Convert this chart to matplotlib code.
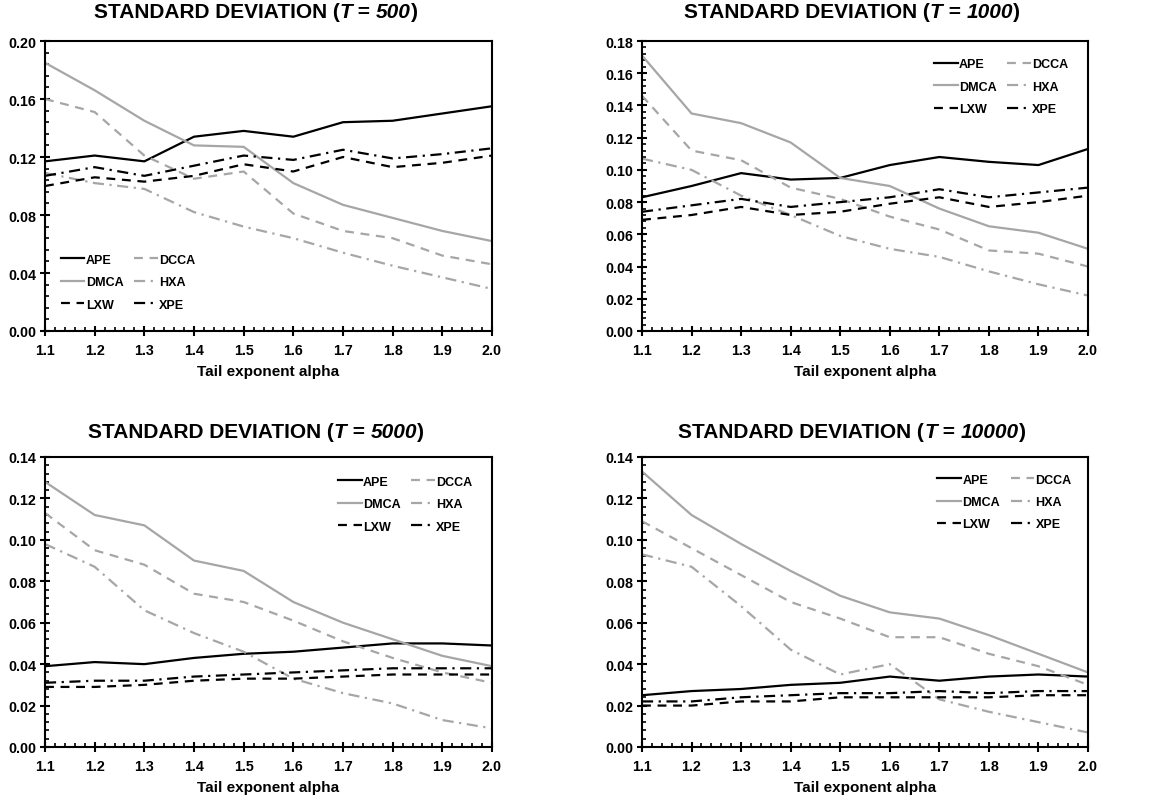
import matplotlib
matplotlib.use("Agg")
import matplotlib.pyplot as plt
from matplotlib.ticker import MultipleLocator, FormatStrFormatter

plt.rcParams['font.family'] = ['Liberation Sans', 'DejaVu Sans']
plt.rcParams['font.weight'] = 'bold'

alpha = [1.1, 1.2, 1.3, 1.4, 1.5, 1.6, 1.7, 1.8, 1.9, 2.0]
sizes = ["500", "1000", "5000", "10000"]

# T = 500
ape_500 = [0.117, 0.121, 0.117, 0.134, 0.138, 0.134, 0.144, 0.145, 0.150, 0.155]
dmca_500 = [0.185, 0.166, 0.145, 0.128, 0.127, 0.102, 0.087, 0.078, 0.069, 0.062]
dcca_500 = [0.160, 0.151, 0.121, 0.105, 0.110, 0.081, 0.069, 0.064, 0.052, 0.046]
hxa_500 = [0.109, 0.102, 0.098, 0.082, 0.072, 0.064, 0.054, 0.045, 0.037, 0.029]
lxw_500 = [0.100, 0.106, 0.103, 0.107, 0.115, 0.110, 0.120, 0.113, 0.116, 0.121]
xpe_500 = [0.107, 0.113, 0.107, 0.114, 0.121, 0.118, 0.125, 0.119, 0.122, 0.126]

# T = 1000
ape_1000 = [0.083, 0.090, 0.098, 0.094, 0.095, 0.103, 0.108, 0.105, 0.103, 0.113]
dmca_1000 = [0.171, 0.135, 0.129, 0.117, 0.095, 0.090, 0.076, 0.065, 0.061, 0.051]
dcca_1000 = [0.146, 0.112, 0.106, 0.089, 0.082, 0.071, 0.063, 0.050, 0.048, 0.040]
hxa_1000 = [0.107, 0.100, 0.084, 0.072, 0.059, 0.051, 0.046, 0.037, 0.029, 0.022]
lxw_1000 = [0.069, 0.072, 0.077, 0.072, 0.074, 0.079, 0.083, 0.077, 0.080, 0.084]
xpe_1000 = [0.074, 0.078, 0.082, 0.077, 0.080, 0.083, 0.088, 0.083, 0.086, 0.089]

# T = 5000
ape_5000 = [0.039, 0.041, 0.040, 0.043, 0.045, 0.046, 0.048, 0.050, 0.050, 0.049]
dmca_5000 = [0.128, 0.112, 0.107, 0.090, 0.085, 0.070, 0.060, 0.052, 0.044, 0.039]
dcca_5000 = [0.113, 0.095, 0.088, 0.074, 0.070, 0.061, 0.051, 0.043, 0.036, 0.031]
hxa_5000 = [0.098, 0.087, 0.066, 0.055, 0.046, 0.033, 0.026, 0.021, 0.013, 0.009]
lxw_5000 = [0.029, 0.029, 0.030, 0.032, 0.033, 0.033, 0.034, 0.035, 0.035, 0.035]
xpe_5000 = [0.031, 0.032, 0.032, 0.034, 0.035, 0.036, 0.037, 0.038, 0.038, 0.038]

# T = 10000
ape_10000 = [0.025, 0.027, 0.028, 0.030, 0.031, 0.034, 0.032, 0.034, 0.035, 0.034]
dmca_10000 = [0.133, 0.112, 0.098, 0.085, 0.073, 0.065, 0.062, 0.054, 0.045, 0.036]
dcca_10000 = [0.109, 0.096, 0.083, 0.070, 0.062, 0.053, 0.053, 0.045, 0.039, 0.030]
hxa_10000 = [0.093, 0.087, 0.068, 0.047, 0.035, 0.040, 0.023, 0.017, 0.012, 0.007]
lxw_10000 = [0.020, 0.020, 0.022, 0.022, 0.024, 0.024, 0.024, 0.024, 0.025, 0.025]
xpe_10000 = [0.022, 0.022, 0.024, 0.025, 0.026, 0.026, 0.027, 0.026, 0.027, 0.027]

panels = [
    (ape_500, dmca_500, dcca_500, hxa_500, lxw_500, xpe_500),
    (ape_1000, dmca_1000, dcca_1000, hxa_1000, lxw_1000, xpe_1000),
    (ape_5000, dmca_5000, dcca_5000, hxa_5000, lxw_5000, xpe_5000),
    (ape_10000, dmca_10000, dcca_10000, hxa_10000, lxw_10000, xpe_10000),
]
ymax = [0.20, 0.18, 0.14, 0.14]
ymajor = [0.04, 0.02, 0.02, 0.02]
yminor = [0.008, 0.004, 0.004, 0.004]

GRAY = '#a6a6a6'
BLACK = '#000000'
styles = {
    'APE': dict(color=BLACK, ls='-'),
    'DMCA': dict(color=GRAY, ls='-'),
    'DCCA': dict(color=GRAY, ls=(0, (4, 3))),
    'HXA': dict(color=GRAY, ls=(0, (5, 2.5, 1, 2.5))),
    'LXW': dict(color=BLACK, ls=(0, (4, 3))),
    'XPE': dict(color=BLACK, ls=(0, (5, 2.5, 1, 2.5))),
}
names = ['APE', 'DMCA', 'DCCA', 'HXA', 'LXW', 'XPE']

fig = plt.figure(figsize=(11.6, 8.03), dpi=100)
W, H = 1160, 803
boxes = [(45, 42, 447, 290), (642, 42, 446, 290), (45, 458, 447, 290), (642, 458, 446, 290)]
title_y = [13, 13, 432, 432]
title_x = [256, 852, 256, 852]
xlabel_y = [372, 372, 788, 788]
leg_anchor = [(0.035, 0.266), (0.655, 0.94), (0.655, 0.935), (0.662, 0.943)]

renderer = fig.canvas.get_renderer()


def text_width(s, style):
    t = fig.text(0, 0, s, fontsize=15, fontweight='bold', style=style)
    w = t.get_window_extent(renderer).width
    t.remove()
    return w


for i, (l, t, w, h) in enumerate(boxes):
    ax = fig.add_axes([l / W, 1 - (t + h) / H, w / W, h / H])
    series = dict(zip(names, panels[i]))
    handles = {}
    for n in names:
        st = styles[n]
        ln, = ax.plot(alpha, series[n], color=st['color'], linestyle=st['ls'], lw=1.6, label=n)
        handles[n] = ln
    ax.set_xlim(1.1, 2.0)
    ax.set_ylim(0, ymax[i])
    ax.xaxis.set_major_locator(MultipleLocator(0.1))
    ax.xaxis.set_minor_locator(MultipleLocator(0.02))
    ax.yaxis.set_major_locator(MultipleLocator(ymajor[i]))
    ax.yaxis.set_minor_locator(MultipleLocator(yminor[i]))
    ax.xaxis.set_major_formatter(FormatStrFormatter('%.1f'))
    ax.yaxis.set_major_formatter(FormatStrFormatter('%.2f'))
    ax.tick_params(which='major', direction='inout', length=7, width=1.5, labelsize=10.3)
    ax.tick_params(axis='x', which='major', pad=5)
    ax.tick_params(axis='y', which='major', pad=3)
    ax.tick_params(which='minor', direction='in', length=3, width=1.2)
    ax.tick_params(axis='both', which='both', top=False, right=False)
    for lab in ax.get_xticklabels() + ax.get_yticklabels():
        lab.set_fontweight('bold')
    for sp in ax.spines.values():
        sp.set_linewidth(1.5)
        sp.set_color('black')
    order = ['APE', 'DMCA', 'LXW', 'DCCA', 'HXA', 'XPE']
    ax.legend([handles[n] for n in order], order, ncol=2, loc='upper left',
              bbox_to_anchor=leg_anchor[i], frameon=False, borderpad=0, borderaxespad=0,
              handlelength=1.9, handletextpad=0.1, columnspacing=0.85, labelspacing=0.83,
              prop=dict(size=9, weight='bold'))
    fig.text((l + w / 2) / W, 1 - xlabel_y[i] / H, 'Tail exponent alpha',
             ha='center', va='center', fontsize=11, fontweight='bold')

    # title composed of upright and italic bold pieces
    parts = [('STANDARD DEVIATION (', 'normal'), ('T', 'italic'), (' = ', 'normal'),
             (sizes[i], 'italic'), (')', 'normal')]
    widths = [text_width(s, sty) for s, sty in parts]
    xx = title_x[i] - sum(widths) / 2
    yy = 1 - title_y[i] / H
    for (s, sty), ww in zip(parts, widths):
        fig.text(xx / W, yy, s, fontsize=15, fontweight='bold', style=sty, ha='left', va='center')
        xx += ww

fig.savefig('out.png', dpi=100)
